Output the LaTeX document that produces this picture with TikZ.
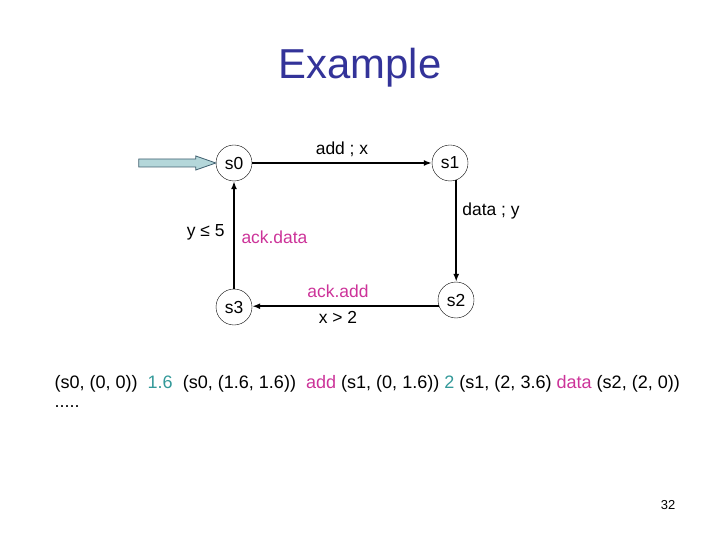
\documentclass[tikz,border=0pt]{standalone}
\usepackage{fontspec}
\setmainfont{Liberation Sans}
\usepackage{xcolor}
\usetikzlibrary{arrows.meta,positioning,calc}

\definecolor{titleblue}{RGB}{51,51,153}
\definecolor{actpink}{RGB}{204,51,153}
\definecolor{delayteal}{RGB}{51,153,153}
\definecolor{initfill}{RGB}{180,215,218}
\definecolor{initline}{RGB}{63,95,111}

\begin{document}
\begin{tikzpicture}[
  x=1bp, y=-1bp,
  >={Latex[length=8bp,width=6bp]},
  every node/.style={font=\fontsize{17.5}{20}\selectfont},
  state/.style={circle, draw, thin, minimum size=36bp, inner sep=0pt},
  trans/.style={->, line width=1.7bp},
  act/.style={text=actpink},
  delay/.style={text=delayteal},
  initarrow/.style={draw=initline, fill=initfill, line width=0.8bp},
]
\useasboundingbox (0,0) rectangle (720,540);

% Title
\node[font=\fontsize{42}{48}\selectfont, text=titleblue] (title) at (360,68) {Example};

% States
\node[state] (s0) at (234,163) {s0};
\node[state] (s1) at (450,163) {s1};
\node[state] (s2) at (456,300) {s2};
\node[state] (s3) at (234,307) {s3};

% Initial arrow
\draw[initarrow] (s0.west) -- ++(-20,-7) -- ++(0,3) -- ++(-57,0) -- ++(0,8)
  -- ++(57,0) -- ++(0,3) -- cycle;

% Transitions
\draw[trans] (s0) -- node[above=2bp] (lab01) {add ; x} (s1);
\draw[trans] (s1.-70) -- node[right=2bp, pos=0.3] (lab12) {data ; y} (s1.-70 |- s2.north);
\draw[trans] (s2.200) -- (s2.200 -| s3.east);
\draw[trans] (s3) -- (s0);

% Labels of s2 -> s3 and s3 -> s0
\node[act] (lab23a) at (338,291) {ack.add};
\node (lab23b) at (338,317) {x > 2};
\node[anchor=east] (lab30a) at (228,232) {y ≤ 5};
\node[act, anchor=west] (lab30b) at (238,237) {ack.data};

% Run
\node[anchor=west, font=\fontsize{18.1}{22}\selectfont] (run) at (51,384) {(s0, (0, 0))~~\textcolor{delayteal}{1.6}~~(s0, (1.6, 1.6))~~\textcolor{actpink}{add} (s1, (0, 1.6)) \textcolor{delayteal}{2} (s1, (2, 3.6) \textcolor{actpink}{data} (s2, (2, 0))};
\node[anchor=west, font=\fontsize{18.1}{22}\selectfont] (dots) at (51,407) {.....};

% Page number
\node[font=\fontsize{13}{15}\selectfont] (page) at (668,505) {32};

\end{tikzpicture}
\end{document}
